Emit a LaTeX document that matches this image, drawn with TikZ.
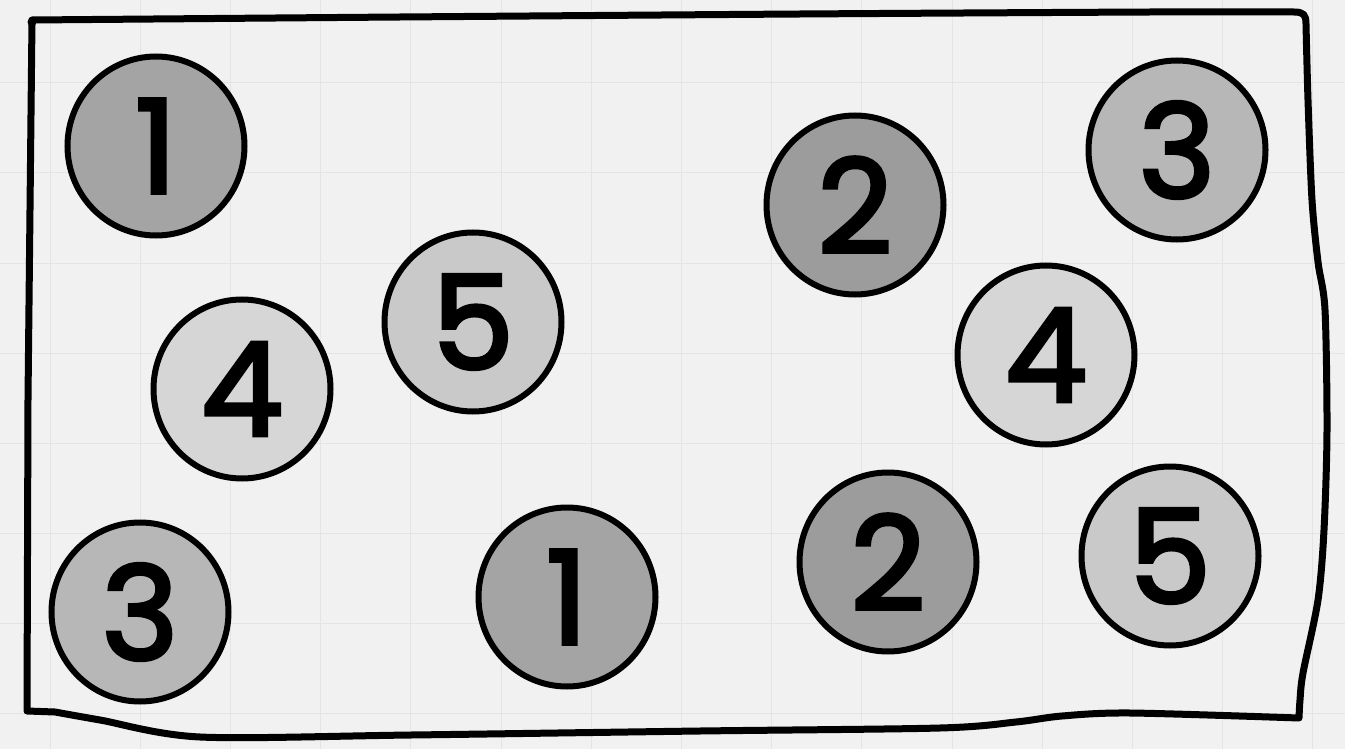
\documentclass[tikz,border=0pt]{standalone}
\usepackage{fontspec}
\setmainfont{Poppins}
\newfontfamily\digitfont{Poppins}[FakeBold=3]
\usetikzlibrary{shapes.geometric}
\definecolor{paper}{HTML}{F1F1F1}
\definecolor{gridc}{HTML}{E4E4E4}
\definecolor{dark}{HTML}{9C9C9C}
\definecolor{darkb}{HTML}{A4A4A4}
\definecolor{midc}{HTML}{B7B7B7}
\definecolor{fivec}{HTML}{C9C9C9}
\definecolor{light}{HTML}{D6D6D6}
\tikzset{
  disc/.style={ellipse, draw=black, line width=6pt, inner sep=0pt,
    minimum width=177pt, minimum height=179pt,
    font=\fontsize{130}{130}\selectfont\digitfont},
  frame/.style={draw=black, line width=7pt, line join=round, line cap=round},
}
\begin{document}
\begin{tikzpicture}[x=1pt,y=-1pt]
\useasboundingbox (0,0) rectangle (1345,749);
\fill[paper] (0,0) rectangle (1345,749);
\foreach \k in {0,...,14} {\draw[gridc, line width=1pt] ({50+90.2*\k},0) -- ({50+90.2*\k},749);}
\foreach \k in {0,...,7} {\draw[gridc, line width=1pt] (0,{83+90*\k}) -- (1345,{83+90*\k});}
% hand-drawn frame
\draw[frame] plot[smooth,tension=0.4] coordinates {(32,20) (400,17) (800,14) (1150,12) (1294,12)}
  .. controls (1304,12) and (1306,15) .. (1306,24)
  -- plot[smooth,tension=0.5] coordinates {(1306,24) (1308,100) (1312,200) (1318,262) (1325,310) (1327,430) (1324,530) (1318,600) (1303,673) (1300,700) (1299,718)}
  -- plot[smooth,tension=0.5] coordinates {(1299,718) (1130,713) (1062,716) (1016,722) (940,728) (700,731) (411,735) (200,737) (100,720) (55,712)}
  -- (27,711) -- (28,400) -- (32,20);
\fill (32,22) circle (4.5pt);
% discs
\node[disc, fill=darkb] (one1) at (156,146) {1};
\node[disc, fill=light] (four1) at (242,389) {4};
\node[disc, fill=fivec] (five1) at (473,322) {5};
\node[disc, fill=midc] (three1) at (140,612) {3};
\node[disc, fill=darkb] (one2) at (567,597) {1};
\node[disc, fill=dark] (two1) at (855,205) {2};
\node[disc, fill=midc] (three2) at (1177,150) {3};
\node[disc, fill=light] (four2) at (1046,355) {4};
\node[disc, fill=dark] (two2) at (888,562) {2};
\node[disc, fill=fivec] (five2) at (1170,556) {5};
\end{tikzpicture}
\end{document}
